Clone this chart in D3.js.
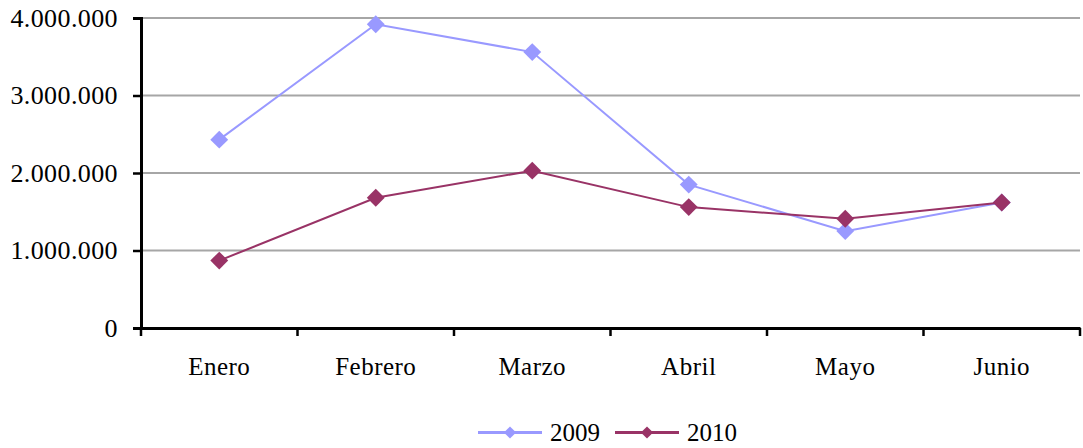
<!DOCTYPE html>
<html><head><meta charset="utf-8">
<script src="https://cdn.jsdelivr.net/npm/d3@7"></script>
<style>body{margin:0;background:#fff}svg{display:block}</style>
</head><body>
<svg id="c" width="1083" height="448"></svg>
<script>
const categories = ["Enero","Febrero","Marzo","Abril","Mayo","Junio"];
const series2009 = [2430000, 3920000, 3560000, 1850000, 1250000, 1620000];
const series2010 = [870000, 1680000, 2030000, 1560000, 1410000, 1620000];
const seriesNames = ["2009","2010"];
const yTicks = [0, 1000000, 2000000, 3000000, 4000000];

const svg = d3.select("#c");
const mLeft = 141, mRight = 1080, mTop = 18, mBottom = 328;
const x = d3.scaleBand().domain(categories).range([mLeft, mRight]);
const y = d3.scaleLinear().domain([0, 4000000]).range([mBottom, mTop]);
const colors = ["#9999ff", "#993366"];
const fmt = v => d3.format(",")(v).replace(/,/g, ".");

// gridlines
svg.append("g").selectAll("line").data(yTicks.filter(d => d > 0)).join("line")
  .attr("x1", mLeft).attr("x2", mRight)
  .attr("y1", d => y(d)).attr("y2", d => y(d))
  .attr("stroke", "#a6a6a6").attr("stroke-width", 2);

// y axis
const ya = svg.append("g").attr("transform", `translate(${mLeft},0)`)
  .call(d3.axisLeft(y).tickValues(yTicks).tickFormat(fmt).tickSize(8).tickPadding(15));
ya.select(".domain").attr("stroke", "#000").attr("stroke-width", 3);
ya.selectAll(".tick line").attr("stroke", "#000").attr("stroke-width", 2.5);
ya.selectAll("text").attr("font-family", "Liberation Serif").attr("font-size", 26)
  .attr("fill", "#000").attr("letter-spacing", 0.4);

// x axis
const xa = svg.append("g").attr("transform", `translate(0,${mBottom})`)
  .call(d3.axisBottom(x).tickSize(0).tickPadding(29));
xa.select(".domain").attr("stroke", "#000").attr("stroke-width", 3);
xa.selectAll("text").attr("font-family", "Liberation Serif").attr("font-size", 25)
  .attr("fill", "#000").attr("letter-spacing", 0.5);
const bounds = categories.map(c => x(c)).concat([x(categories[categories.length-1]) + x.bandwidth()]);
xa.append("g").selectAll("line").data(bounds).join("line")
  .attr("x1", d => d).attr("x2", d => d).attr("y1", 0).attr("y2", 8)
  .attr("stroke", "#000").attr("stroke-width", 2.5);

// lines
const line = d3.line().x((d, i) => x(categories[i]) + x.bandwidth() / 2).y(d => y(d));
const diamond = d3.symbol().type(d3.symbolSquare).size(160);
[series2009, series2010].forEach((s, k) => {
  svg.append("path").datum(s).attr("d", line).attr("fill", "none")
    .attr("stroke", colors[k]).attr("stroke-width", 2);
  svg.append("g").selectAll("path").data(s).join("path")
    .attr("d", diamond)
    .attr("transform", (d, i) => `translate(${x(categories[i]) + x.bandwidth() / 2},${y(d)}) rotate(45)`)
    .attr("fill", colors[k]);
});

// legend
const leg = svg.append("g");
const legX = [478, 615];
seriesNames.forEach((n, k) => {
  const g = leg.append("g").attr("transform", `translate(${legX[k]},432.5)`);
  g.append("line").attr("x1", 0).attr("x2", 64).attr("y1", 0).attr("y2", 0)
    .attr("stroke", colors[k]).attr("stroke-width", 3);
  g.append("path").attr("d", d3.symbol().type(d3.symbolSquare).size(75)())
    .attr("transform", "translate(32,0) rotate(45)").attr("fill", colors[k]);
  g.append("text").attr("x", 72).attr("y", 8.5).text(n)
    .attr("font-family", "Liberation Serif").attr("font-size", 25);
});
</script>
</body></html>
